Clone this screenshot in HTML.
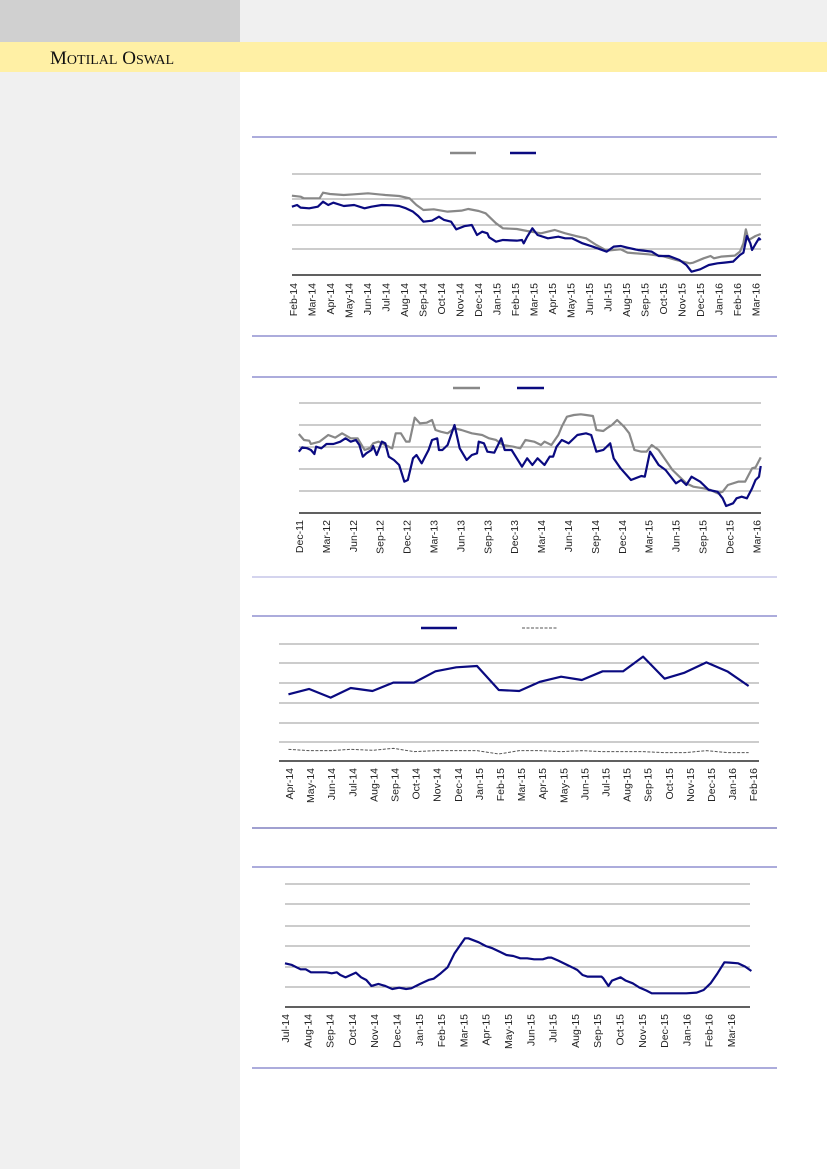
<!DOCTYPE html>
<html><head><meta charset="utf-8"><style>
html,body{margin:0;padding:0;width:827px;height:1169px;overflow:hidden;background:#fff}
svg{display:block}
text{font-family:"Liberation Sans",sans-serif;font-size:10.5px;fill:#222}
</style></head><body>
<svg width="827" height="1169" viewBox="0 0 827 1169" xmlns="http://www.w3.org/2000/svg">
<rect x="0" y="0" width="240" height="1169" fill="#f0f0f0"/>
<rect x="0" y="0" width="240" height="42" fill="#d0d0d0"/>
<rect x="240" y="0" width="587" height="42" fill="#f0f0f0"/>
<rect x="0" y="42" width="827" height="30" fill="#fff0a5"/>
<text x="50" y="64" style="font-family:'Liberation Serif',serif;font-size:19px;fill:#111">M<tspan style="font-size:14px">OTILAL</tspan> O<tspan style="font-size:14px">SWAL</tspan></text>

<!-- Chart 1 -->
<line x1="252" y1="137" x2="777" y2="137" stroke="#5a5ab8" stroke-width="1"/>
<line x1="252" y1="336" x2="777" y2="336" stroke="#5a5ab8" stroke-width="1"/>
<line x1="450" y1="153" x2="476" y2="153" stroke="#888" stroke-width="2.5"/>
<line x1="510" y1="153" x2="536" y2="153" stroke="#0a0a80" stroke-width="2.5"/>
<g stroke="#999" stroke-width="1"><line x1="292" y1="174" x2="761" y2="174"/><line x1="292" y1="199" x2="761" y2="199"/><line x1="292" y1="225" x2="761" y2="225"/><line x1="292" y1="249" x2="761" y2="249"/></g>
<line x1="292" y1="275" x2="761" y2="275" stroke="#000" stroke-width="1.2"/>
<g transform="translate(240,130) scale(0.346,0.3333)" fill="none" stroke-linejoin="round">
<polyline vector-effect="non-scaling-stroke" stroke="#888" stroke-width="2.2" points="150,197 175,200 185,205 230,205 240,188 260,192 300,195 330,193 370,190 420,195 460,198 490,205 510,225 530,240 560,238 600,245 640,242 660,237 690,243 710,250 740,280 760,295 800,297 830,303 870,310 910,300 940,310 970,318 1000,325 1030,345 1060,362 1100,358 1120,368 1180,373 1220,378 1260,390 1300,400 1310,398 1340,385 1360,378 1370,385 1390,380 1430,377 1445,365 1455,340 1462,298 1470,330 1490,318 1505,312"/>
<polyline vector-effect="non-scaling-stroke" stroke="#0a0a80" stroke-width="2.2" points="150,230 165,225 175,233 200,235 225,230 240,215 255,225 270,218 300,228 330,225 360,235 380,230 410,225 440,226 460,228 480,235 500,245 515,258 530,275 555,272 575,260 590,270 610,275 625,298 650,288 670,285 685,315 700,305 715,310 720,322 740,335 760,330 800,332 815,330 820,340 830,320 845,295 860,315 890,325 920,320 940,325 960,325 990,340 1020,350 1060,365 1080,350 1100,348 1120,353 1150,360 1190,365 1210,378 1240,378 1270,390 1290,405 1305,425 1330,418 1355,405 1380,400 1400,398 1425,395 1445,375 1455,368 1465,318 1475,340 1480,360 1490,342 1500,325 1505,330"/>
</g>
<g text-anchor="end">
<text transform="translate(297,283) rotate(-90)">Feb-14</text><text transform="translate(315.5,283) rotate(-90)">Mar-14</text><text transform="translate(334,283) rotate(-90)">Apr-14</text><text transform="translate(352.5,283) rotate(-90)">May-14</text><text transform="translate(371,283) rotate(-90)">Jun-14</text><text transform="translate(389.5,283) rotate(-90)">Jul-14</text><text transform="translate(408,283) rotate(-90)">Aug-14</text><text transform="translate(426.5,283) rotate(-90)">Sep-14</text><text transform="translate(445,283) rotate(-90)">Oct-14</text><text transform="translate(463.5,283) rotate(-90)">Nov-14</text><text transform="translate(482,283) rotate(-90)">Dec-14</text><text transform="translate(500.5,283) rotate(-90)">Jan-15</text><text transform="translate(519,283) rotate(-90)">Feb-15</text><text transform="translate(537.5,283) rotate(-90)">Mar-15</text><text transform="translate(556,283) rotate(-90)">Apr-15</text><text transform="translate(574.5,283) rotate(-90)">May-15</text><text transform="translate(593,283) rotate(-90)">Jun-15</text><text transform="translate(611.5,283) rotate(-90)">Jul-15</text><text transform="translate(630,283) rotate(-90)">Aug-15</text><text transform="translate(648.5,283) rotate(-90)">Sep-15</text><text transform="translate(667,283) rotate(-90)">Oct-15</text><text transform="translate(685.5,283) rotate(-90)">Nov-15</text><text transform="translate(704,283) rotate(-90)">Dec-15</text><text transform="translate(722.5,283) rotate(-90)">Jan-16</text><text transform="translate(741,283) rotate(-90)">Feb-16</text><text transform="translate(759.5,283) rotate(-90)">Mar-16</text>
</g>

<!-- Chart 2 -->
<line x1="252" y1="377" x2="777" y2="377" stroke="#5a5ab8" stroke-width="1"/>
<line x1="252" y1="577" x2="777" y2="577" stroke="#a8a8dc" stroke-width="1"/>
<line x1="453" y1="388" x2="480" y2="388" stroke="#888" stroke-width="2.5"/>
<line x1="517" y1="388" x2="544" y2="388" stroke="#0a0a80" stroke-width="2.5"/>
<g stroke="#999" stroke-width="1"><line x1="299" y1="403" x2="761" y2="403"/><line x1="299" y1="425" x2="761" y2="425"/><line x1="299" y1="447" x2="761" y2="447"/><line x1="299" y1="469" x2="761" y2="469"/><line x1="299" y1="491" x2="761" y2="491"/></g>
<line x1="299" y1="513" x2="761" y2="513" stroke="#000" stroke-width="1.2"/>
<g transform="translate(240,370) scale(0.346,0.3333)" fill="none" stroke-linejoin="round">
<polyline vector-effect="non-scaling-stroke" stroke="#888" stroke-width="2.2" points="170,192 185,210 200,212 205,222 230,215 255,195 275,203 295,190 320,205 340,205 360,240 375,235 385,220 400,215 420,225 440,235 450,190 465,190 480,215 490,215 505,143 520,160 540,158 555,150 565,180 580,185 600,190 620,175 640,180 670,190 700,195 720,205 740,210 760,225 790,230 810,235 825,210 850,215 870,225 880,215 900,225 920,195 930,170 945,140 965,135 985,133 1000,135 1020,138 1030,180 1050,183 1060,175 1075,165 1090,150 1110,170 1125,190 1140,240 1160,245 1175,245 1190,225 1210,240 1230,270 1250,300 1270,320 1290,340 1310,350 1340,355 1360,360 1380,370 1395,365 1410,345 1440,335 1460,335 1480,295 1490,292 1505,262"/>
<polyline vector-effect="non-scaling-stroke" stroke="#0a0a80" stroke-width="2.2" points="170,245 180,232 195,235 205,240 215,252 220,230 235,235 250,222 270,222 290,215 305,205 320,215 335,210 345,225 355,260 365,250 380,240 385,228 395,255 410,215 420,220 430,260 445,270 460,285 475,335 485,330 500,265 510,255 525,280 535,260 545,240 555,210 570,205 575,240 585,240 600,225 620,165 635,235 655,270 670,255 685,250 690,215 705,220 715,245 735,248 755,205 765,240 785,240 800,265 815,290 830,265 845,285 860,265 880,285 895,260 905,260 915,230 930,210 940,215 950,220 960,210 975,195 1000,190 1015,195 1030,245 1050,240 1070,220 1080,265 1100,295 1130,330 1160,318 1170,320 1185,245 1210,285 1230,300 1260,340 1275,330 1290,345 1305,320 1330,335 1355,360 1380,365 1395,385 1405,408 1425,400 1435,385 1450,380 1465,385 1480,355 1490,330 1500,320 1505,288"/>
</g>
<g text-anchor="end">
<text transform="translate(303,520) rotate(-90)">Dec-11</text><text transform="translate(329.9,520) rotate(-90)">Mar-12</text><text transform="translate(356.8,520) rotate(-90)">Jun-12</text><text transform="translate(383.7,520) rotate(-90)">Sep-12</text><text transform="translate(410.6,520) rotate(-90)">Dec-12</text><text transform="translate(437.5,520) rotate(-90)">Mar-13</text><text transform="translate(464.4,520) rotate(-90)">Jun-13</text><text transform="translate(491.3,520) rotate(-90)">Sep-13</text><text transform="translate(518.2,520) rotate(-90)">Dec-13</text><text transform="translate(545.1,520) rotate(-90)">Mar-14</text><text transform="translate(572,520) rotate(-90)">Jun-14</text><text transform="translate(598.9,520) rotate(-90)">Sep-14</text><text transform="translate(625.8,520) rotate(-90)">Dec-14</text><text transform="translate(652.7,520) rotate(-90)">Mar-15</text><text transform="translate(679.6,520) rotate(-90)">Jun-15</text><text transform="translate(706.5,520) rotate(-90)">Sep-15</text><text transform="translate(733.4,520) rotate(-90)">Dec-15</text><text transform="translate(760.3,520) rotate(-90)">Mar-16</text>
</g>

<!-- Chart 3 -->
<line x1="252" y1="616" x2="777" y2="616" stroke="#5a5ab8" stroke-width="1"/>
<line x1="252" y1="828" x2="777" y2="828" stroke="#4040a0" stroke-width="1"/>
<line x1="421" y1="628" x2="457" y2="628" stroke="#0a0a80" stroke-width="2.5"/>
<line x1="522" y1="628" x2="558" y2="628" stroke="#555" stroke-width="1" stroke-dasharray="3,1.5"/>
<g stroke="#999" stroke-width="1"><line x1="279" y1="644" x2="759" y2="644"/><line x1="279" y1="663" x2="759" y2="663"/><line x1="279" y1="683" x2="759" y2="683"/><line x1="279" y1="703" x2="759" y2="703"/><line x1="279" y1="723" x2="759" y2="723"/><line x1="279" y1="742" x2="759" y2="742"/></g>
<line x1="279" y1="761" x2="759" y2="761" stroke="#000" stroke-width="1.2"/>
<g transform="translate(240,610) scale(0.346,0.3333)" fill="none" stroke-linejoin="round">
<polyline vector-effect="non-scaling-stroke" stroke="#0a0a80" stroke-width="2.2" points="140,253 200,237 262,263 320,234 383,243 443,218 503,218 565,184 625,172 685,168 748,240 807,243 868,215 928,200 988,210 1048,184 1107,184 1165,140 1227,206 1285,188 1348,157 1410,185 1470,228"/>
<polyline vector-effect="non-scaling-stroke" stroke="#555" stroke-width="1" stroke-dasharray="3,1.5" points="140,418 200,422 262,422 320,418 383,421 443,415 503,425 565,422 625,422 685,422 748,432 807,422 868,422 928,425 988,422 1048,425 1107,425 1165,425 1227,428 1285,428 1348,422 1410,428 1470,428"/>
</g>
<g text-anchor="end">
<text transform="translate(293,768) rotate(-90)">Apr-14</text><text transform="translate(314.1,768) rotate(-90)">May-14</text><text transform="translate(335.2,768) rotate(-90)">Jun-14</text><text transform="translate(356.3,768) rotate(-90)">Jul-14</text><text transform="translate(377.4,768) rotate(-90)">Aug-14</text><text transform="translate(398.5,768) rotate(-90)">Sep-14</text><text transform="translate(419.6,768) rotate(-90)">Oct-14</text><text transform="translate(440.7,768) rotate(-90)">Nov-14</text><text transform="translate(461.8,768) rotate(-90)">Dec-14</text><text transform="translate(482.9,768) rotate(-90)">Jan-15</text><text transform="translate(504,768) rotate(-90)">Feb-15</text><text transform="translate(525.1,768) rotate(-90)">Mar-15</text><text transform="translate(546.2,768) rotate(-90)">Apr-15</text><text transform="translate(567.3,768) rotate(-90)">May-15</text><text transform="translate(588.4,768) rotate(-90)">Jun-15</text><text transform="translate(609.5,768) rotate(-90)">Jul-15</text><text transform="translate(630.6,768) rotate(-90)">Aug-15</text><text transform="translate(651.7,768) rotate(-90)">Sep-15</text><text transform="translate(672.8,768) rotate(-90)">Oct-15</text><text transform="translate(693.9,768) rotate(-90)">Nov-15</text><text transform="translate(715,768) rotate(-90)">Dec-15</text><text transform="translate(736.1,768) rotate(-90)">Jan-16</text><text transform="translate(757.2,768) rotate(-90)">Feb-16</text>
</g>

<!-- Chart 4 -->
<line x1="252" y1="867" x2="777" y2="867" stroke="#5a5ab8" stroke-width="1"/>
<line x1="252" y1="1068" x2="777" y2="1068" stroke="#5a5ab8" stroke-width="1"/>
<g stroke="#999" stroke-width="1"><line x1="285" y1="884" x2="750" y2="884"/><line x1="285" y1="904" x2="750" y2="904"/><line x1="285" y1="926" x2="750" y2="926"/><line x1="285" y1="946" x2="750" y2="946"/><line x1="285" y1="967" x2="750" y2="967"/><line x1="285" y1="987" x2="750" y2="987"/></g>
<line x1="285" y1="1007" x2="750" y2="1007" stroke="#000" stroke-width="1.2"/>
<g transform="translate(240,860) scale(0.346,0.3333)" fill="none" stroke-linejoin="round">
<polyline vector-effect="non-scaling-stroke" stroke="#0a0a80" stroke-width="2.2" points="130,310 150,315 175,328 190,328 205,337 250,337 265,340 280,337 290,345 305,352 335,338 350,352 365,360 380,378 400,372 420,378 440,387 460,383 480,387 495,385 520,372 545,360 560,356 580,340 600,322 620,280 650,235 660,235 690,247 710,258 730,265 750,275 770,285 790,288 810,295 830,295 850,298 875,298 890,293 900,293 920,302 940,312 960,322 975,330 990,345 1005,350 1045,350 1050,355 1065,378 1075,362 1100,352 1115,362 1135,370 1155,383 1175,392 1190,400 1290,400 1320,398 1340,390 1360,370 1380,340 1400,307 1415,308 1440,310 1460,320 1478,333"/>
</g>
<g text-anchor="end">
<text transform="translate(289,1014) rotate(-90)">Jul-14</text><text transform="translate(311.3,1014) rotate(-90)">Aug-14</text><text transform="translate(333.6,1014) rotate(-90)">Sep-14</text><text transform="translate(355.9,1014) rotate(-90)">Oct-14</text><text transform="translate(378.2,1014) rotate(-90)">Nov-14</text><text transform="translate(400.5,1014) rotate(-90)">Dec-14</text><text transform="translate(422.8,1014) rotate(-90)">Jan-15</text><text transform="translate(445.1,1014) rotate(-90)">Feb-15</text><text transform="translate(467.4,1014) rotate(-90)">Mar-15</text><text transform="translate(489.7,1014) rotate(-90)">Apr-15</text><text transform="translate(512,1014) rotate(-90)">May-15</text><text transform="translate(534.3,1014) rotate(-90)">Jun-15</text><text transform="translate(556.6,1014) rotate(-90)">Jul-15</text><text transform="translate(578.9,1014) rotate(-90)">Aug-15</text><text transform="translate(601.2,1014) rotate(-90)">Sep-15</text><text transform="translate(623.5,1014) rotate(-90)">Oct-15</text><text transform="translate(645.8,1014) rotate(-90)">Nov-15</text><text transform="translate(668.1,1014) rotate(-90)">Dec-15</text><text transform="translate(690.4,1014) rotate(-90)">Jan-16</text><text transform="translate(712.7,1014) rotate(-90)">Feb-16</text><text transform="translate(735,1014) rotate(-90)">Mar-16</text>
</g>
</svg>
</body></html>
